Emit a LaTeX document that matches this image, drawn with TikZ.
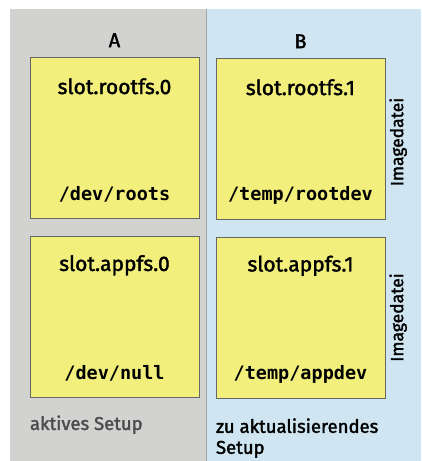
\documentclass[tikz,border=0pt]{standalone}
\usepackage{fontspec}
\setmainfont{Fira Sans}
\newfontfamily\labelfont{Fira Sans}[FakeBold=1.8]
\newfontfamily\devfont{DejaVu Sans Mono Bold}
\usetikzlibrary{positioning}
\definecolor{panelgray}{HTML}{D2D2D0}
\definecolor{panelblue}{HTML}{CFE6F2}
\definecolor{slotyellow}{HTML}{F2EF7C}

\begin{document}
\begin{tikzpicture}[x=1pt,y=-1pt,
    slot/.style={draw=black!60,fill=slotyellow,inner sep=0pt,
      minimum width=169pt,minimum height=161pt},
    slotname/.style={font=\fontsize{21}{24}\labelfont,inner sep=0pt},
    devname/.style={font=\fontsize{18.5}{21}\devfont,inner sep=0pt},
    colname/.style={font=\fontsize{20}{24}\labelfont,inner sep=0pt},
    sidelabel/.style={font=\fontsize{17.5}{20}\labelfont,rotate=90,inner sep=0pt},
    setuplabel/.style={font=\fontsize{18.5}{21}\labelfont,inner sep=0pt,align=left}]
  \useasboundingbox (0,0) rectangle (421,461);
  % panels
  \fill[panelgray] (10,9) rectangle (206,461);
  \fill[panelblue] (206,9) rectangle (421,461);
  \draw[black!35] (206,9) -- (206,461);
  % slots
  \node[slot] (rootA) at (114.5,138) {};
  \node[slot] (rootB) at (300.5,139) {};
  \node[slot] (appA) at (114.5,317) {};
  \node[slot] (appB) at (300.5,317.5) {};
  \node[colname] (colA) at ([yshift=17pt]rootA.north) {A};
  \node[colname] (colB) at ([yshift=17pt]rootB.north) {B};
  \node[slotname] (rootAname) at ([yshift=-29pt]rootA.north) {slot.rootfs.0};
  \node[slotname] (rootBname) at ([yshift=-29pt]rootB.north) {slot.rootfs.1};
  \node[slotname] (appAname) at ([yshift=-29pt]appA.north) {slot.appfs.0};
  \node[slotname] (appBname) at ([yshift=-29pt]appB.north) {slot.appfs.1};
  \node[devname] (rootAdev) at ([yshift=24pt]rootA.south) {/dev/roots};
  \node[devname] (rootBdev) at ([yshift=24pt]rootB.south) {/temp/rootdev};
  \node[devname] (appAdev) at ([yshift=24pt]appA.south) {/dev/null};
  \node[devname] (appBdev) at ([yshift=24pt]appB.south) {/temp/appdev};
  % image files
  \node[sidelabel] (imgroot) at ([xshift=13pt,yshift=-3pt]rootB.east) {Imagedatei};
  \node[sidelabel] (imgapp) at ([xshift=13pt]appB.east) {Imagedatei};
  % setups
  \node[setuplabel,text=black!70,anchor=west] (activeSetup) at ([yshift=-27pt]appA.south west) {aktives Setup};
  \node[setuplabel,anchor=north west] (updateSetup) at ([yshift=-20pt]appB.south west) {zu aktualisierendes\\Setup};
\end{tikzpicture}
\end{document}
